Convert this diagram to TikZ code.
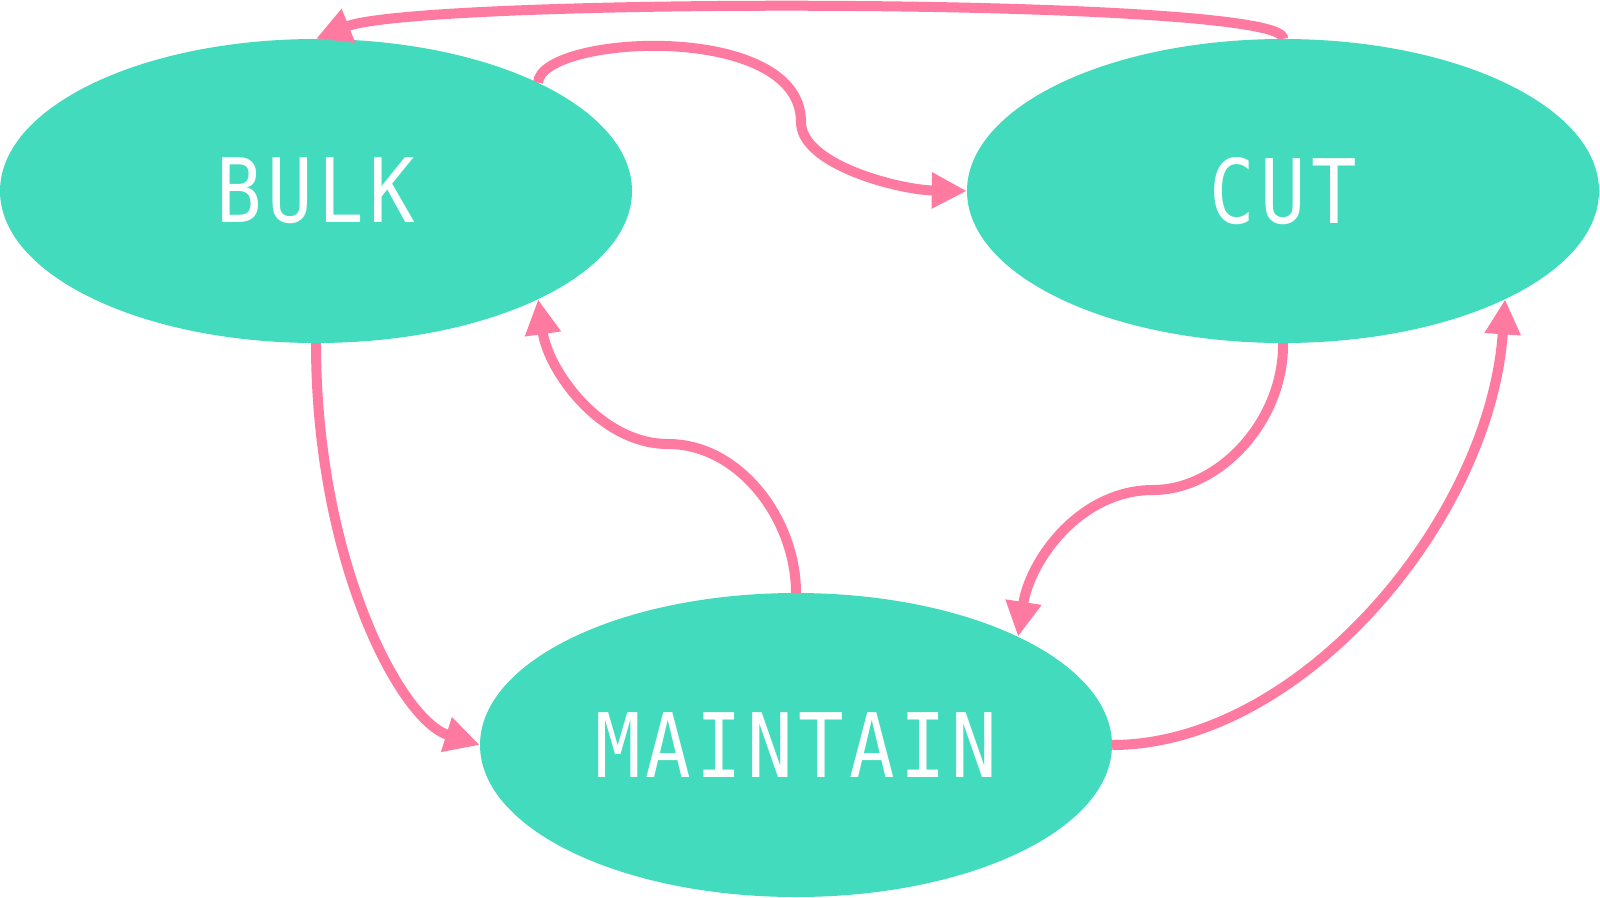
\documentclass[tikz,border=0pt]{standalone}
\usepackage{fontspec}
\usetikzlibrary{shapes.geometric,arrows.meta}
\newfontfamily\statefont[FakeStretch=0.85,LetterSpace=6]{DejaVu Sans Mono}
\definecolor{stateteal}{RGB}{67,219,190}
\definecolor{edgepink}{RGB}{255,122,160}
\tikzset{
  state/.style={ellipse, fill=stateteal, minimum width=632pt, minimum height=304pt,
    inner sep=0pt, text=white, font=\statefont\fontsize{89}{92}\selectfont},
  trans/.style={draw=edgepink, line width=10pt, -{Triangle[length=35pt,width=34pt]}}
}
\begin{document}
\begin{tikzpicture}[x=1pt,y=-1pt]
    \useasboundingbox (0,0) rectangle (1600,897);

    \node[state] (bulk) at (316,191) {BULK};
    \node[state] (cut) at (1283,191) {CUT};
    \node[state] (maintain) at (796,745) {MAINTAIN};

    \draw[trans] (cut.north) .. controls (1290,-3) and (420,-3) .. (bulk.north);
    \draw[trans] (bulk.26) .. controls (540,35) and (801,20) .. (801,122)
        .. controls (801,165) and (900,190) .. (cut.west);
    \draw[trans] (bulk.south) .. controls (316,560) and (400,720) .. (maintain.west);
    \draw[trans] (maintain.north) .. controls (796,520) and (740,444) .. (668,444)
        .. controls (600,444) and (548,370) .. (bulk.-26);
    \draw[trans] (cut.south) .. controls (1284,420) and (1220,490) .. (1153,490)
        .. controls (1080,490) and (1030,560) .. (maintain.26);
    \draw[trans] (maintain.east) .. controls (1300,745) and (1490,520) .. (cut.-26);
\end{tikzpicture}
\end{document}
